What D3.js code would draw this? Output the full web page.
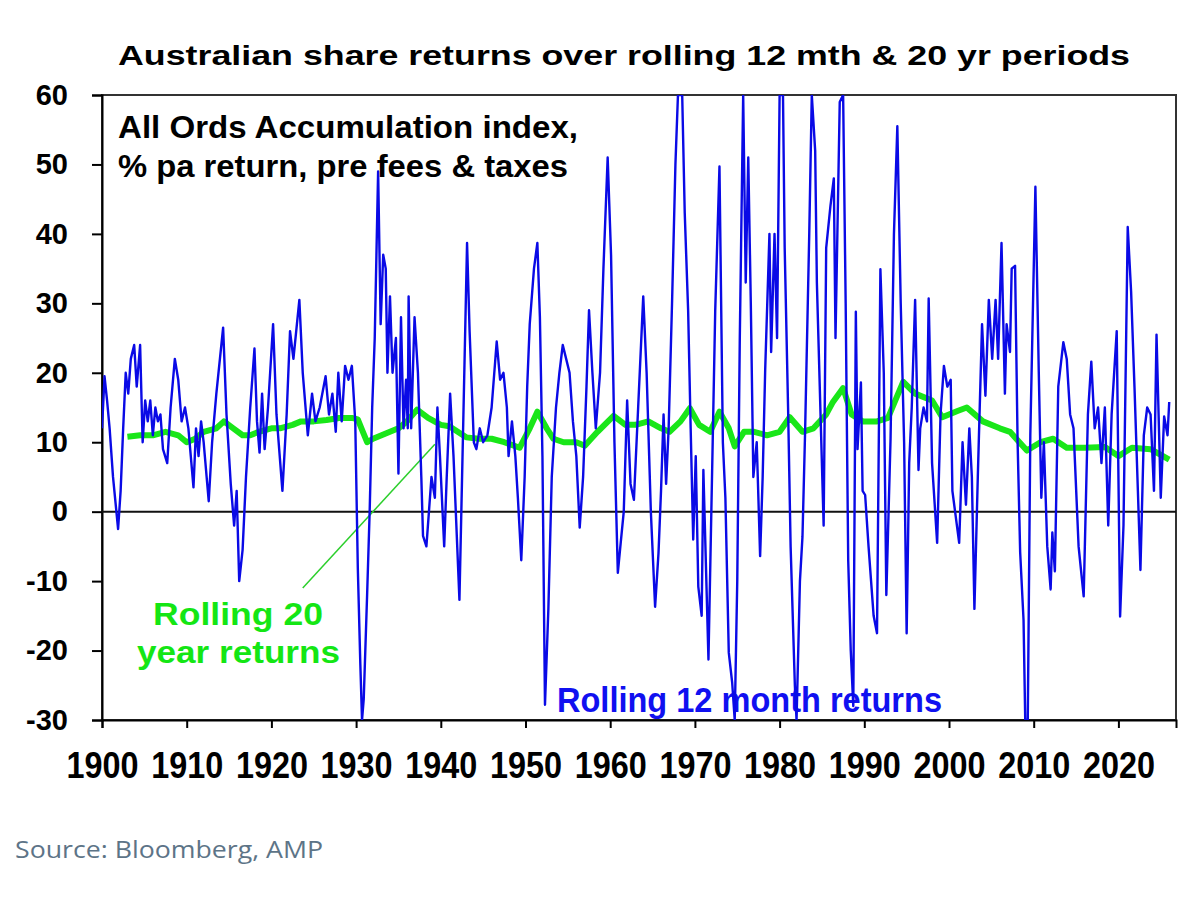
<!DOCTYPE html>
<html>
<head>
<meta charset="utf-8">
<script src="https://cdn.jsdelivr.net/npm/d3@7"></script>
<style>
  body { margin: 0; background: #fff; }
</style>
</head>
<body>
<svg id="chart" width="1203" height="897"></svg>
<script>
// Rolling 12 month returns (% pa)
const monthYears = [1900.0,1900.3,1900.6,1900.9,1901.3,1901.9,1902.2,1902.5,1902.8,1903.1,1903.4,1903.8,1904.1,1904.5,1904.8,1905.1,1905.4,1905.7,1906.0,1906.3,1906.6,1906.9,1907.2,1907.7,1908.1,1908.6,1909.0,1909.4,1909.8,1910.2,1910.8,1911.1,1911.4,1911.7,1912.0,1912.6,1913.0,1913.5,1914.3,1914.7,1915.2,1915.6,1915.9,1916.2,1916.6,1917.0,1917.5,1918.0,1918.3,1918.6,1918.9,1919.2,1919.6,1920.2,1920.6,1921.3,1921.8,1922.2,1922.6,1923.3,1923.7,1924.3,1924.8,1925.2,1925.7,1926.4,1926.8,1927.2,1927.6,1927.9,1928.3,1928.7,1929.1,1929.5,1929.9,1930.2,1930.5,1930.7,1930.9,1931.3,1931.6,1931.9,1932.2,1932.6,1932.9,1933.2,1933.5,1933.7,1934.0,1934.3,1934.7,1935.0,1935.3,1935.6,1935.9,1936.1,1936.2,1936.5,1936.9,1937.3,1937.7,1937.9,1938.3,1938.6,1938.9,1939.3,1939.6,1939.9,1940.4,1940.7,1941.1,1941.5,1942.2,1942.6,1943.1,1943.4,1943.9,1944.2,1944.6,1945.0,1945.5,1946.0,1946.6,1947.0,1947.4,1947.8,1948.0,1948.4,1948.8,1949.1,1949.5,1949.9,1950.2,1950.5,1951.0,1951.4,1951.7,1952.0,1952.3,1952.7,1953.1,1953.6,1954.0,1954.4,1954.8,1955.2,1955.6,1956.0,1956.4,1956.8,1957.2,1957.5,1957.9,1958.3,1958.8,1959.2,1959.7,1960.1,1960.5,1960.9,1961.2,1961.6,1962.0,1962.4,1962.8,1963.3,1963.9,1964.3,1964.8,1965.3,1965.7,1966.0,1966.3,1966.6,1966.9,1967.3,1967.7,1968.0,1968.5,1968.8,1969.2,1969.5,1969.8,1970.1,1970.4,1970.8,1971.0,1971.6,1972.1,1972.4,1972.9,1973.3,1973.6,1974.0,1974.4,1974.7,1975.0,1975.3,1975.7,1976.0,1976.3,1976.6,1976.9,1977.3,1977.7,1978.0,1978.3,1978.8,1979.0,1979.4,1979.7,1980.0,1980.4,1980.6,1981.0,1981.3,1981.8,1982.0,1982.4,1982.7,1983.0,1983.5,1983.8,1984.2,1984.4,1984.9,1985.2,1985.5,1986.0,1986.4,1986.6,1987.1,1987.5,1987.8,1988.1,1988.4,1988.7,1989.0,1989.2,1989.6,1989.8,1990.1,1990.5,1991.1,1991.5,1991.9,1992.3,1992.6,1993.1,1993.5,1993.9,1994.3,1994.7,1995.0,1995.3,1995.6,1996.0,1996.4,1996.6,1997.0,1997.4,1997.6,1998.0,1998.6,1999.0,1999.4,1999.8,2000.2,2000.4,2001.2,2001.6,2002.0,2002.4,2002.7,2003.0,2003.4,2003.9,2004.3,2004.7,2005.1,2005.5,2005.8,2006.2,2006.6,2006.8,2007.2,2007.4,2007.8,2008.1,2008.4,2008.8,2009.0,2009.3,2009.6,2010.2,2010.6,2010.9,2011.2,2011.6,2012.0,2012.2,2012.5,2012.9,2013.5,2013.9,2014.3,2014.7,2015.3,2015.9,2016.4,2016.8,2017.2,2017.6,2018.0,2018.4,2018.8,2019.2,2019.8,2020.2,2020.6,2021.1,2021.5,2021.9,2022.3,2022.6,2023.0,2023.4,2023.8,2024.2,2024.5,2025.0,2025.4,2025.8,2026.0];
const monthReturns = [12,19.5,16,12,5,-2.5,3,12,20,17,22,24,18,24,10,16,13,16,11,15,13,14,9,7,15,22,19,13,15,12,3.5,12,8,13,10,1.5,10,17,26.5,14,4,-2,3,-10,-5.5,5,15,23.5,13,8.5,17,9,15,27,14,3,14,26,22,30.5,20,11,17,13,15,19.5,14,17,11.5,20,13,21,19,21,13,-8,-22,-30,-27,-12,0,15,25,49,27,37,35,20,31,20,25,5.5,28,12,19,12,31,12,28,20,5,-3.5,-5,0,5,2,15,8,-5,5,17,8,-12.7,10,38.7,26,10,9,12,10,11,15,24.5,19,20,15,8,13,8,2,-7,5,18,27,35,38.7,28,8,-27.8,-14,5,15,20,24,22,20,13,8,-2.3,5,18,29,20,12,20,35,51,37,10,-8.8,-5,0,16,4,1.7,15,31,20,0,-13.7,-6,3,14,4,12,30,50,60,60,43,29,12,-4,8,-10.8,-15,6,-21.3,10,29,49.7,10,2,-20.3,-24.6,-30,-10,25,60,33,51,30,5,10,-6.4,5,20.5,40,23,40,25,60,60,38,15,-5,-25,-30,-10,-3.6,11,40,60,52,33,11,-2,38,44,48,25,59,60,30,-7,-20,-28,28.8,9,18.6,3,2.4,-5,-15,-17.5,34.9,20,-12,10.5,40,55.5,30,10,-17.5,7,15,30.5,6,12,15,13,30.7,7,-4.5,14,21,18,19,3,-4.5,10,1,12,5,-14,5,27,16.7,30.5,22,30.5,22,38.7,17,27,23,35,35.4,10,-5.8,-15.6,-30,-30,11,46.8,20,2,10,-5,-11.2,-3,-8.6,18,24.4,22,14,12,-5,-12.2,14,21.6,12,15,7,15,-2,14,26,-15.1,-2,41,31.7,17.9,3,-8.4,11,15,14,3,25.5,2,13.7,11,15.8];

// Rolling 20 year returns (% pa)
const twentyYears = [1903.0,1904.5,1906.0,1907.5,1909.0,1910.0,1911.0,1912.0,1913.5,1914.4,1915.5,1916.6,1917.5,1918.5,1920.0,1921.0,1922.5,1923.5,1925.0,1926.5,1928.0,1929.5,1930.2,1930.8,1931.3,1932.0,1933.0,1934.0,1935.0,1936.0,1937.2,1938.5,1940.0,1941.0,1942.0,1943.0,1944.5,1946.0,1947.5,1949.3,1950.5,1951.4,1952.5,1953.3,1954.5,1956.0,1957.0,1958.5,1960.4,1961.8,1963.0,1964.5,1966.0,1967.0,1968.3,1969.4,1970.5,1971.8,1972.9,1974.0,1974.7,1975.8,1977.0,1978.5,1980.0,1981.2,1982.7,1984.0,1985.5,1986.3,1987.5,1988.5,1989.8,1991.5,1992.8,1994.0,1994.6,1996.0,1998.0,1999.2,2001.0,2002.1,2004.0,2006.0,2007.2,2009.2,2010.8,2012.3,2013.9,2016.0,2018.4,2020.0,2021.6,2023.8,2026.0];
const twentyReturns = [10.8,11,11,11.5,11,10,10.5,11.5,12,13,12,11,11,11.5,12,12,12.5,13,13,13.2,13.5,13.5,13.3,11.5,10,10.5,11,11.5,12,13,14.7,13.5,12.5,12.3,11.5,10.7,10.5,10.5,10,9.2,12,14.4,12,10.5,10,10,9.5,11.5,13.8,12.5,12.5,13,12,11.5,13,14.9,12.5,11.5,14.4,12,9.4,11.5,11.5,11,11.5,13.6,11.5,12,14,15.8,17.8,14,13,13,13.5,17,18.7,17,16,13.6,14.5,15,13,12,11.5,8.8,10,10.5,9.2,9.2,9.3,8,9.2,9,7.5];

const yTicks = [-30, -20, -10, 0, 10, 20, 30, 40, 50, 60];
const xTicks = [1900, 1910, 1920, 1930, 1940, 1950, 1960, 1970, 1980, 1990, 2000, 2010, 2020];

const titleText = "Australian share returns over rolling 12 mth & 20 yr periods";
const noteLines = ["All Ords Accumulation index,", "% pa return, pre fees & taxes"];
const greenLabel = ["Rolling 20", "year returns"];
const blueLabel = "Rolling 12 month returns";
const sourceText = "Source: Bloomberg, AMP";

const monthData = monthYears.map((y, i) => ({ year: y, value: monthReturns[i] }));
const twentyData = twentyYears.map((y, i) => ({ year: y, value: twentyReturns[i] }));

const chartFont = "'Liberation Sans', Arial, sans-serif";
const svg = d3.select("#chart").attr("font-family", chartFont);

// plot box
const plotLeft = 102, plotRight = 1176, plotTop = 95, plotBottom = 720;

const x = d3.scaleLinear().domain([1900, 2026.8]).range([plotLeft, plotRight]);
const y = d3.scaleLinear().domain([-30, 60]).range([plotBottom, plotTop]);

svg.append("rect").attr("width", 1203).attr("height", 897).attr("fill", "#fff");

// title
svg.append("text")
  .attr("x", 118).attr("y", 65)
  .attr("font-size", 28).attr("font-weight", "bold")
  .attr("textLength", 1012).attr("lengthAdjust", "spacingAndGlyphs")
  .text(titleText);

// frame
svg.append("rect")
  .attr("x", plotLeft).attr("y", plotTop)
  .attr("width", plotRight - plotLeft).attr("height", plotBottom - plotTop)
  .attr("fill", "none").attr("stroke", "#333").attr("stroke-width", 2);

// y axis (plain hyphen for negatives, like the original)
const yAxis = svg.append("g").attr("transform", "translate(" + plotLeft + ",0)")
  .call(d3.axisLeft(y).tickValues(yTicks).tickSize(10).tickPadding(24).tickFormat(d => String(d)));
yAxis.select(".domain").attr("stroke", "#000").attr("stroke-width", 2);
yAxis.selectAll(".tick line").attr("stroke", "#000").attr("stroke-width", 2);
yAxis.selectAll(".tick text")
  .attr("font-size", 29).attr("font-weight", "bold").attr("fill", "#000")
  .attr("font-family", chartFont);

// x axis
const xAxis = svg.append("g").attr("transform", "translate(0," + plotBottom + ")")
  .call(d3.axisBottom(x).tickValues(xTicks).tickSize(8).tickFormat(d => String(d)));
xAxis.select(".domain").attr("stroke", "#000").attr("stroke-width", 2);
xAxis.selectAll(".tick line").attr("stroke", "#000").attr("stroke-width", 2);
xAxis.selectAll(".tick text")
  .attr("font-size", 36).attr("font-weight", "bold").attr("fill", "#000")
  .attr("font-family", chartFont)
  .attr("text-anchor", "start")
  .attr("x", -36).attr("y", 58).attr("dy", null)
  .attr("textLength", 72).attr("lengthAdjust", "spacingAndGlyphs");

// zero line
svg.append("line")
  .attr("x1", plotLeft).attr("x2", plotRight)
  .attr("y1", y(0)).attr("y2", y(0))
  .attr("stroke", "#111").attr("stroke-width", 2);

// note text top-left
noteLines.forEach((t, i) => {
  svg.append("text")
    .attr("x", 118).attr("y", 138 + i * 39)
    .attr("font-size", 32).attr("font-weight", "bold")
    .attr("textLength", i === 0 ? 460 : 450).attr("lengthAdjust", "spacingAndGlyphs")
    .text(t);
});

// annotation labels
svg.append("text")
  .attr("x", 153).attr("y", 625)
  .attr("font-size", 32).attr("font-weight", "bold").attr("fill", "#14e614")
  .attr("textLength", 170).attr("lengthAdjust", "spacingAndGlyphs")
  .text(greenLabel[0]);
svg.append("text")
  .attr("x", 137).attr("y", 663)
  .attr("font-size", 32).attr("font-weight", "bold").attr("fill", "#14e614")
  .attr("textLength", 203).attr("lengthAdjust", "spacingAndGlyphs")
  .text(greenLabel[1]);
svg.append("line")
  .attr("x1", x(1923.7)).attr("y1", y(-11))
  .attr("x2", x(1939.3)).attr("y2", y(9.7))
  .attr("stroke", "#2ccf2c").attr("stroke-width", 1.5);

svg.append("text")
  .attr("x", 557).attr("y", 712)
  .attr("font-size", 35).attr("font-weight", "bold").attr("fill", "#1010f0")
  .attr("textLength", 385).attr("lengthAdjust", "spacingAndGlyphs")
  .text(blueLabel);

// lines clipped to plot area
svg.append("clipPath").attr("id", "plotClip")
  .append("rect").attr("x", plotLeft).attr("y", plotTop)
  .attr("width", plotRight - plotLeft).attr("height", plotBottom - plotTop);

const line = d3.line().x(d => x(d.year)).y(d => y(d.value));

const plot = svg.append("g").attr("clip-path", "url(#plotClip)");

plot.append("path")
  .datum(twentyData)
  .attr("fill", "none")
  .attr("stroke", "#19e619")
  .attr("stroke-width", 6)
  .attr("stroke-linejoin", "round")
  .attr("d", line);

plot.append("path")
  .datum(monthData)
  .attr("fill", "none")
  .attr("stroke", "#0a0ae6")
  .attr("stroke-width", 2.4)
  .attr("stroke-linejoin", "round")
  .attr("d", line);

// source
svg.append("text")
  .attr("x", 15).attr("y", 858)
  .attr("font-family", "'Open Sans', sans-serif")
  .attr("font-size", 24).attr("fill", "#5d7487")
  .attr("textLength", 308).attr("lengthAdjust", "spacingAndGlyphs")
  .text(sourceText);
</script>
</body>
</html>
